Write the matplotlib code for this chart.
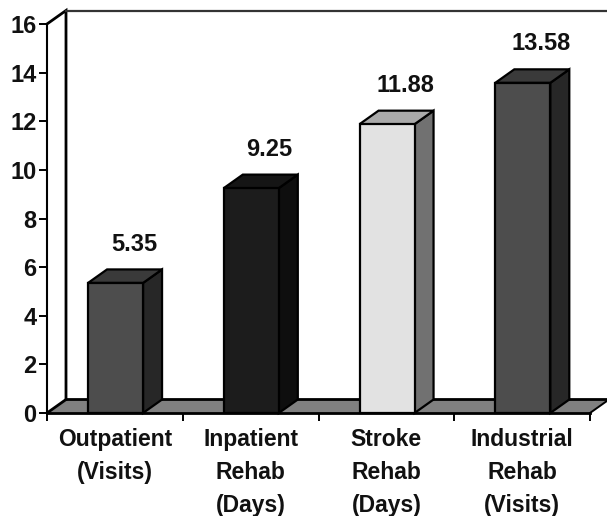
import matplotlib
matplotlib.use("Agg")
import matplotlib.pyplot as plt
from matplotlib.patches import Polygon

categories = ["Outpatient\n(Visits)", "Inpatient\nRehab\n(Days)", "Stroke\nRehab\n(Days)", "Industrial\nRehab\n(Visits)"]
values = [5.35, 9.25, 11.88, 13.58]
labels = ["5.35", "9.25", "11.88", "13.58"]
front_colors = ["#4d4d4d", "#1c1c1c", "#e2e2e2", "#4d4d4d"]
top_colors = ["#3a3a3a", "#151515", "#aaaaaa", "#3a3a3a"]
side_colors = ["#272727", "#0e0e0e", "#717171", "#272727"]
yticks = [0, 2, 4, 6, 8, 10, 12, 14, 16]

W, H = 607, 516
plt.rcParams["font.family"] = ["Liberation Sans", "DejaVu Sans"]

fig = plt.figure(figsize=(W / 100, H / 100), dpi=100)
# axes box is the front plane of the 3d chart, in pixels
ax = fig.add_axes([47 / W, 1 - 413 / H, (590 - 47) / W, (413 - 24) / H])
ax.set_xlim(0, 4)
ax.set_ylim(0, 16)
for s in ax.spines.values():
    s.set_visible(False)

# depth offset of the fake 3d, in data units
dx = 19 / (543 / 4)
dy = 13.5 / (389 / 16)
bar_w = 55 / (543 / 4)
top = 16 + dy


def poly(pts, fc, ec="black", lw=1.6, z=2):
    ax.add_patch(Polygon(pts, closed=True, facecolor=fc, edgecolor=ec, linewidth=lw,
                         zorder=z, clip_on=False, joinstyle="miter"))


# floor and walls
poly([(0, 0), (dx, dy), (4 + dx, dy), (4, 0)], "#808080", ec="none", z=1)
ax.plot([0, 0], [0, 16], color="black", lw=1.5, clip_on=False, zorder=1.5)
ax.plot([0, dx, dx], [16, top, dy], color="black", lw=2, clip_on=False, zorder=1.5, solid_joinstyle="miter")
ax.plot([dx, 4.2], [top, top], color="#333333", lw=1.6, clip_on=False, zorder=1.5)
ax.plot([0, dx, 4 + dx], [0, dy, dy], color="black", lw=2, clip_on=False, zorder=1.5, solid_joinstyle="miter")
ax.plot([4, 4 + dx], [0, dy], color="black", lw=1.4, clip_on=False, zorder=1.5)
ax.plot([0, 4], [0, 0], color="black", lw=2, clip_on=False, zorder=1.6)

for i, v in enumerate(values):
    x0 = i + 0.505 - bar_w / 2
    x1 = x0 + bar_w
    poly([(x1, 0), (x1 + dx, dy), (x1 + dx, v + dy), (x1, v)], side_colors[i])
    poly([(x0, v), (x0 + dx, v + dy), (x1 + dx, v + dy), (x1, v)], top_colors[i])
    poly([(x0, 0), (x0, v), (x1, v), (x1, 0)], front_colors[i])
    ax.annotate(labels[i], (i + 0.5 + dx, v + dy), xytext=(0, 10), textcoords="offset points",
                ha="center", va="bottom", fontsize=17, fontweight="bold", color="#111111")

ax.set_xticks(range(5))
ax.set_xticklabels([])
ax.set_yticks(yticks)
ax.set_yticklabels([str(t) for t in yticks], fontsize=17, fontweight="bold", color="#111111")
ax.tick_params(axis="both", length=5.5, width=1.4, color="black")
ax.tick_params(axis="y", pad=2)

for i, c in enumerate(categories):
    ax.annotate(c, (i + 0.5, 0), xytext=(0, -11), textcoords="offset points", ha="center", va="top",
                fontsize=16.5, fontweight="bold", color="#111111", linespacing=1.55)

fig.savefig("out.png", dpi=100, facecolor="white")
